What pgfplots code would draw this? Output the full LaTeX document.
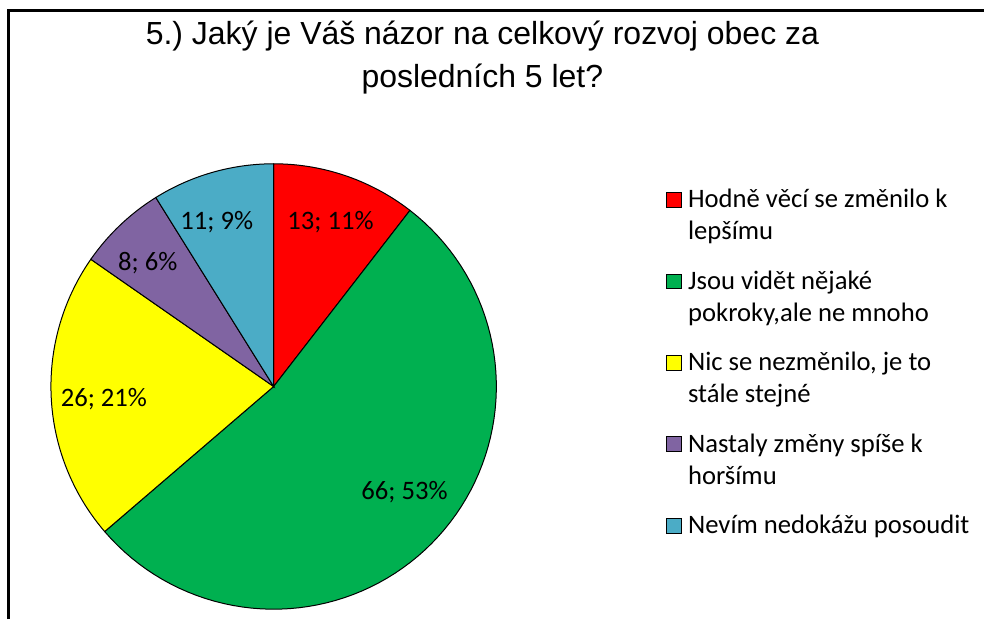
\documentclass[border=0pt]{standalone}
\usepackage{fontspec}
\setmainfont{Carlito}
\newfontfamily\arialfont{Liberation Sans}
\usepackage{pgfplots}
\pgfplotsset{compat=1.18}
\definecolor{cRed}{HTML}{FF0000}
\definecolor{cGreen}{HTML}{00B050}
\definecolor{cYellow}{HTML}{FFFF00}
\definecolor{cPurple}{HTML}{8064A2}
\definecolor{cBlue}{HTML}{4BACC6}
% data values
\def\vA{13}\def\vB{66}\def\vC{26}\def\vD{8}\def\vE{11}
\pgfmathsetmacro\tot{\vA+\vB+\vC+\vD+\vE}
\pgfmathsetmacro\aA{0}
\pgfmathsetmacro\aB{\aA+\vA/\tot*360}
\pgfmathsetmacro\aC{\aB+\vB/\tot*360}
\pgfmathsetmacro\aD{\aC+\vC/\tot*360}
\pgfmathsetmacro\aE{\aD+\vD/\tot*360}
\pgfmathsetmacro\aF{\aE+\vE/\tot*360}
\def\cx{274}\def\cy{233}\def\R{223}
\newcommand\legtxt[1]{\parbox[t]{220pt}{\raggedright #1}}
\frenchspacing
\begin{document}
\begin{tikzpicture}
\begin{axis}[x=0.75pt,y=0.75pt,xmin=0,xmax=985,ymin=0,ymax=620,
  hide axis, clip=false,
  legend style={draw=none, fill=none, at={(axis cs:667,434.4)}, anchor=north west,
    inner sep=0pt, font=\fontsize{20}{24}\selectfont, row sep=42.8pt, column sep=4.5pt,
    nodes={inner sep=0pt, anchor=base west}},
  legend image code/.code={\draw[#1,line width=0.6pt] (0pt,0.4pt) rectangle (11.2pt,11.6pt);},
  every axis plot/.append style={draw=black, line width=0.75pt, samples=80, variable=\t},
]
\path (axis cs:0,0) rectangle (axis cs:985,620);
\addplot[fill=cRed, domain=\aA:\aB] ({\cx+\R*sin(\t)},{\cy+\R*cos(\t)}) -- (axis cs:\cx,\cy) -- cycle;
\addlegendentry{\legtxt{\strut Hodně věcí se změnilo k\\\strut lepšímu}}
\addplot[fill=cGreen, domain=\aB:\aC] ({\cx+\R*sin(\t)},{\cy+\R*cos(\t)}) -- (axis cs:\cx,\cy) -- cycle;
\addlegendentry{\legtxt{\strut Jsou vidět nějaké\\\strut pokroky,ale ne mnoho}}
\addplot[fill=cYellow, domain=\aC:\aD] ({\cx+\R*sin(\t)},{\cy+\R*cos(\t)}) -- (axis cs:\cx,\cy) -- cycle;
\addlegendentry{\legtxt{\strut Nic se nezměnilo, je to\\\strut stále stejné}}
\addplot[fill=cPurple, domain=\aD:\aE] ({\cx+\R*sin(\t)},{\cy+\R*cos(\t)}) -- (axis cs:\cx,\cy) -- cycle;
\addlegendentry{\legtxt{\strut Nastaly změny spíše k\\\strut horšímu}}
\addplot[fill=cBlue, domain=\aE:\aF] ({\cx+\R*sin(\t)},{\cy+\R*cos(\t)}) -- (axis cs:\cx,\cy) -- cycle;
\addlegendentry{\legtxt{\strut\mbox{Nevím nedokážu posoudit}}}
% data labels
\begin{scope}[every node/.style={font=\fontsize{20}{24}\selectfont, anchor=center}]
\node at (axis cs:331,398) {13; 11\%};
\node at (axis cs:405,127) {66; 53\%};
\node at (axis cs:104,220) {26; 21\%};
\node at (axis cs:148,357) {8; 6\%};
\node at (axis cs:217,398) {11; 9\%};
\end{scope}
% title
\node[anchor=base, font=\arialfont\fontsize{24}{28}\selectfont] at (axis cs:483,575) {5.) Jaký je Váš názor na celkový rozvoj obec za};
\node[anchor=base, font=\arialfont\fontsize{24}{28}\selectfont] at (axis cs:483,532) {posledních 5 let?};
% chart frame
\draw[line width=1.9pt] (axis cs:8.5,0) -- (axis cs:8.5,609.5) -- (axis cs:985,609.5);
\end{axis}
\end{tikzpicture}
\end{document}
